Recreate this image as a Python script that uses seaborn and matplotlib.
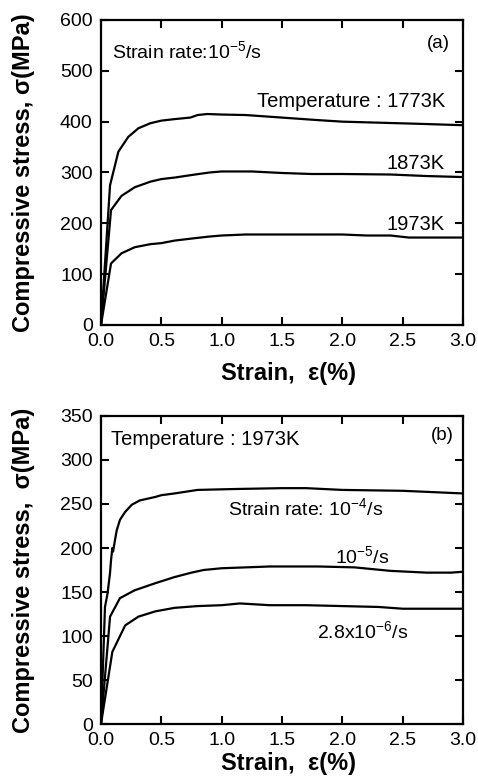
import matplotlib
matplotlib.use("Agg")
import matplotlib.pyplot as plt
import seaborn as sns
import pandas as pd

# (a) strain rate 1e-5/s, three temperatures
strain_1773 = [0, 0.075, 0.144, 0.226, 0.31, 0.41, 0.5, 0.61, 0.74, 0.8, 0.88, 1.0, 1.2, 1.5, 1.8, 2.0, 2.3, 2.6, 3.0]
stress_1773 = [0, 275, 341, 370, 387, 397, 402, 405, 408, 413, 415, 414, 413, 408, 403, 400, 398, 396, 393]
strain_1873 = [0, 0.083, 0.17, 0.28, 0.41, 0.5, 0.61, 0.75, 0.9, 1.0, 1.25, 1.5, 1.75, 2.0, 2.4, 2.7, 3.0]
stress_1873 = [0, 226, 254, 271, 282, 287, 290, 295, 300, 302, 302, 299, 297, 297, 296, 293, 291]
strain_1973 = [0, 0.083, 0.17, 0.28, 0.41, 0.5, 0.61, 0.75, 0.9, 1.0, 1.2, 1.5, 2.0, 2.2, 2.4, 2.55, 3.0]
stress_1973 = [0, 121, 141, 153, 159, 161, 166, 170, 174, 176, 178, 178, 178, 176, 176, 172, 172]

# (b) 1973K, three strain rates
strain_r4 = [0, 0.033, 0.055, 0.075, 0.083, 0.094, 0.1, 0.116, 0.13, 0.157, 0.2, 0.254, 0.32, 0.45, 0.5, 0.61, 0.8, 1.1, 1.5, 1.7, 2.0, 2.5, 3.0]
stress_r4 = [0, 133, 149, 172, 186, 200, 196, 209, 220, 232, 241, 249, 254, 258, 260, 262, 266, 267, 268, 268, 266, 265, 262]
strain_r5 = [0, 0.075, 0.157, 0.28, 0.45, 0.61, 0.75, 0.85, 1.0, 1.4, 1.8, 2.1, 2.4, 2.7, 2.9, 3.0]
stress_r5 = [0, 122, 143, 152, 160, 167, 172, 175, 177, 179, 179, 178, 174, 172, 172, 173]
strain_r6 = [0, 0.094, 0.2, 0.31, 0.45, 0.61, 0.8, 1.0, 1.15, 1.4, 1.7, 2.0, 2.3, 2.5, 3.0]
stress_r6 = [0, 82, 112, 122, 128, 132, 134, 135, 137, 135, 135, 134, 133, 131, 131]

sns.set_style("ticks")
plt.rcParams['font.family'] = ['Liberation Sans', 'DejaVu Sans']
plt.rcParams['mathtext.fontset'] = 'custom'
plt.rcParams['mathtext.rm'] = 'Liberation Sans'
plt.rcParams['mathtext.it'] = 'Liberation Sans:italic'
plt.rcParams['mathtext.bf'] = 'Liberation Sans:bold'
plt.rcParams['text.color'] = 'black'
plt.rcParams['axes.labelcolor'] = 'black'

fig = plt.figure(figsize=(4.78, 7.78), dpi=100)
ax1 = fig.add_axes([0.2113, 0.5823, 0.7573, 0.392])
ax2 = fig.add_axes([0.2113, 0.0694, 0.7573, 0.3959])


def curve(ax, x, y):
    d = pd.DataFrame({'strain': x, 'stress': y})
    sns.lineplot(data=d, x='strain', y='stress', ax=ax, color='black',
                 linewidth=1.6, estimator=None, sort=False)


def style(ax, ymax, ystep):
    ax.set_xlim(0, 3.0)
    ax.set_ylim(0, ymax)
    ax.set_xticks([0, 0.5, 1.0, 1.5, 2.0, 2.5, 3.0])
    ax.set_xticklabels(['0.0', '0.5', '1.0', '1.5', '2.0', '2.5', '3.0'])
    ax.set_yticks(range(0, ymax + 1, ystep))
    ax.tick_params(direction='in', length=6, width=1.5, top=True, right=True,
                   labelsize=14, pad=6, colors='black')
    for s in ax.spines.values():
        s.set_linewidth(1.6)
        s.set_color('black')


curve(ax1, strain_1773, stress_1773)
curve(ax1, strain_1873, stress_1873)
curve(ax1, strain_1973, stress_1973)
style(ax1, 600, 100)
ax1.set_xlabel('Strain,  ε(%)', fontsize=17, fontweight='bold')
ax1.set_ylabel('Compressive stress, σ(MPa)', fontsize=17, fontweight='bold')
ax1.xaxis.set_label_coords(0.517, -0.12)
ax1.yaxis.set_label_coords(-0.245, 0.5)
ax1.xaxis.label.set_va('top')
ax1.yaxis.label.set_va('top')
ax1.text(0.09, 538, 'Strain rate:10$^{-5}$/s', fontsize=14, va='center', ha='left')
ax1.text(2.89, 554, '(a)', fontsize=13.5, va='center', ha='right')
ax1.text(2.85, 439, 'Temperature : 1773K', fontsize=14.5, va='center', ha='right')
ax1.text(2.85, 318, '1873K', fontsize=14.5, va='center', ha='right')
ax1.text(2.85, 197, '1973K', fontsize=14.5, va='center', ha='right')

curve(ax2, strain_r4, stress_r4)
curve(ax2, strain_r5, stress_r5)
curve(ax2, strain_r6, stress_r6)
style(ax2, 350, 50)
ax2.set_xlabel('Strain,  ε(%)', fontsize=17, fontweight='bold')
ax2.set_ylabel('Compressive stress,  σ(MPa)', fontsize=17, fontweight='bold')
ax2.xaxis.set_label_coords(0.517, -0.09)
ax2.yaxis.set_label_coords(-0.245, 0.5)
ax2.xaxis.label.set_va('top')
ax2.yaxis.label.set_va('top')
ax2.text(0.08, 323, 'Temperature : 1973K', fontsize=14.5, va='center', ha='left')
ax2.text(2.92, 328, '(b)', fontsize=13.5, va='center', ha='right')
ax2.text(1.05, 245, 'Strain rate: 10$^{-4}$/s', fontsize=14, va='center', ha='left')
ax2.text(1.94, 191, '10$^{-5}$/s', fontsize=14, va='center', ha='left')
ax2.text(1.79, 105, '2.8x10$^{-6}$/s', fontsize=14, va='center', ha='left')

fig.savefig('out.png', dpi=100)
